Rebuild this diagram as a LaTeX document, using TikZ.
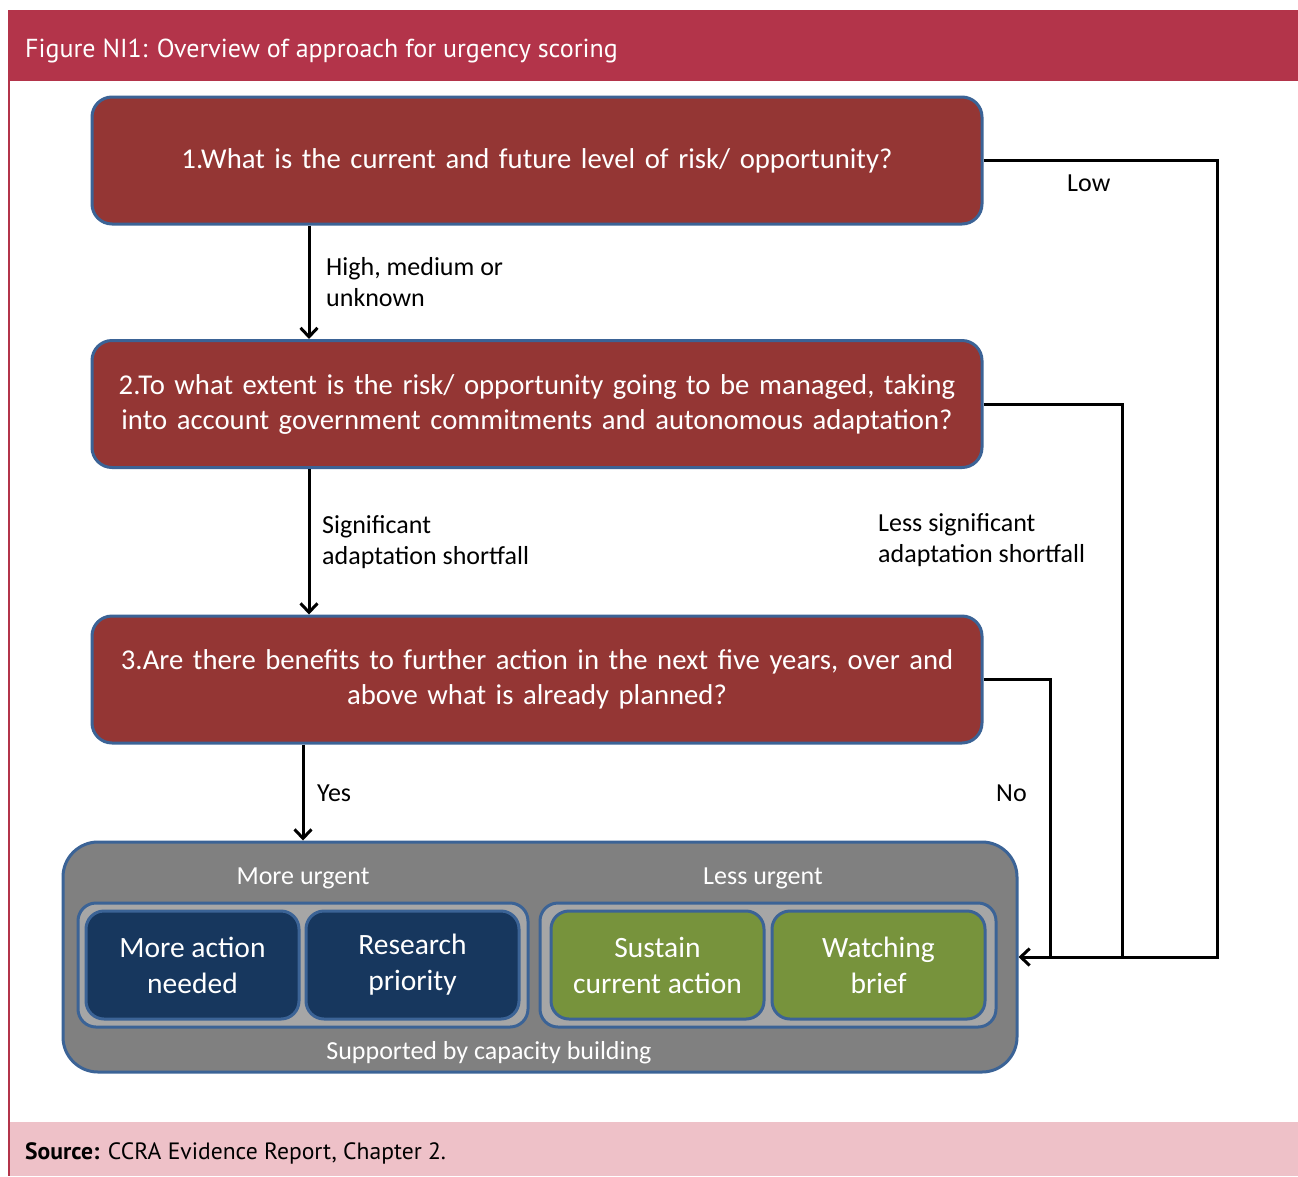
\documentclass[tikz,border=0pt]{standalone}
\usepackage{fontspec}
\setmainfont{Carlito}
\newfontfamily\hdrfont{PT Sans}
\usetikzlibrary{arrows.meta}
\definecolor{hdrred}{HTML}{B3344A}
\definecolor{boxred}{HTML}{943634}
\definecolor{bordblue}{HTML}{3B6396}
\definecolor{outgray}{HTML}{808080}
\definecolor{ingray}{HTML}{A6A6A6}
\definecolor{navy}{HTML}{17375E}
\definecolor{leafgreen}{HTML}{77933C}
\definecolor{footpink}{HTML}{EEC1C8}
\tikzset{
  qbox/.style={draw=bordblue, line width=3pt, fill=boxred, rounded corners=20pt,
    minimum width=890pt, minimum height=127pt, inner sep=0pt, text=white,
    align=center, text width=880pt, font=\fontsize{28.7}{35}\selectfont},
  grpbox/.style={draw=bordblue, line width=3pt, fill=ingray, rounded corners=18pt,
    inner sep=0pt, minimum height=124pt},
  leaf/.style={draw=bordblue, line width=3pt, rounded corners=18pt, inner sep=0pt,
    minimum width=213pt, minimum height=108pt, text=white, align=center,
    font=\fontsize{29.5}{36}\selectfont},
  lbl/.style={anchor=west, inner sep=0pt, align=left, font=\fontsize{26}{31}\selectfont},
  wlbl/.style={inner sep=0pt, text=white, font=\fontsize{26}{30}\selectfont},
  conn/.style={line width=3pt, line join=miter},
  arr/.style={conn, -{Straight Barb[length=9pt,width=17pt,line width=3pt]}},
}
\begin{document}
\begin{tikzpicture}[x=1pt,y=-1pt]
\useasboundingbox (0,0) rectangle (1298,1176);
\fill[white] (0,0) rectangle (1298,1176);
% header and footer
\fill[footpink] (8,1122) rectangle (1298,1176);
\fill[hdrred] (8,10) rectangle (1298,81);
\draw[hdrred, line width=2pt] (9,10) -- (9,1176);
\node[anchor=west, inner sep=0pt, text=white, font=\hdrfont\fontsize{26}{30}\selectfont] (title) at (25,50.5) {Figure NI1: Overview of approach for urgency scoring};
\node[anchor=west, inner sep=0pt, font=\hdrfont\fontsize{23.6}{28}\selectfont] (src) at (25,1153.5) {\textbf{Source:} CCRA Evidence Report, Chapter 2.};
% question boxes
\node[qbox] (b1) at (537,160.5) {1.What is the current and future level of risk/ opportunity?};
\node[qbox] (b2) at (537,404) {2.To what extent is the risk/ opportunity going to be managed, taking\\into account government commitments and autonomous adaptation?};
\node[qbox] (b3) at (537,679.5) {3.Are there benefits to further action in the next five years, over and\\above what is already planned?};
% outcome area
\node[draw=bordblue, line width=3pt, fill=outgray, rounded corners=35pt, minimum width=954pt, minimum height=230pt, inner sep=0pt] (out) at (540,957) {};
\node[wlbl] (mu) at (303,878) {More urgent};
\node[wlbl] (lu) at (763,878) {Less urgent};
\node[wlbl] (cap) at (489,1053) {Supported by capacity building};
\node[grpbox, minimum width=450pt] (g1) at (303,965) {};
\node[grpbox, minimum width=456pt] (g2) at (768,965) {};
\node[leaf, fill=navy] (l1) at (192.5,965) {More action\\needed};
\node[leaf, fill=navy] (l2) at (412.5,965) {Research\\priority};
\node[leaf, fill=leafgreen] (l3) at (657.5,965) {Sustain\\current action};
\node[leaf, fill=leafgreen] (l4) at (878.5,965) {Watching\\brief};
% connector guide coordinates
\coordinate (x1) at (309,0);
\coordinate (x3) at (303,0);
\coordinate (xlow) at (1217,0);
\coordinate (xless) at (1122,0);
\coordinate (xno) at (1050,0);
% down connectors
\draw[arr] (b1.south -| x1) -- (b2.north -| x1);
\draw[arr] (b2.south -| x1) -- (b3.north -| x1);
\draw[arr] (b3.south -| x3) -- (out.north -| x3);
% right-hand connectors
\draw[conn] (b1.east) -- (b1.east -| xlow) -- (out.east -| xlow) -- (out.east -| xno);
\draw[conn] (b2.east) -- (b2.east -| xless) -- (out.east -| xless);
\draw[arr] (b3.east) -- (b3.east -| xno) -- (out.east -| xno) -- (out.east);
% labels
\node[lbl] (lhigh) at (326,282.5) {High, medium or\\unknown};
\node[lbl] (lsig) at (322,542) {Significant\\adaptation shortfall};
\node[lbl] (lless) at (878,540) {Less significant\\adaptation shortfall};
\node[lbl] (lyes) at (317,793) {Yes};
\node[lbl] (lno) at (996,793) {No};
\node[lbl] (llow) at (1067,183) {Low};
\end{tikzpicture}
\end{document}
